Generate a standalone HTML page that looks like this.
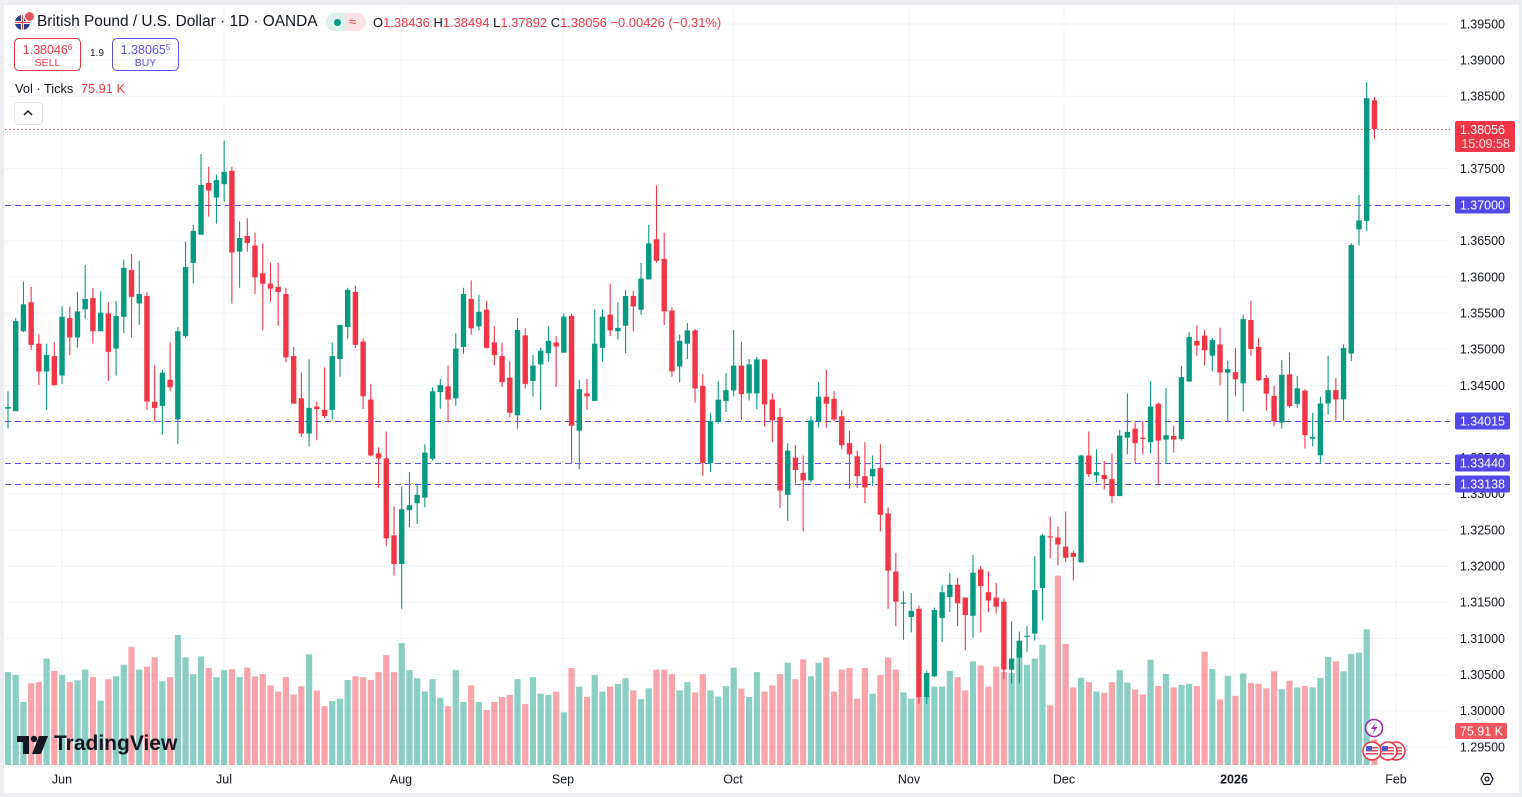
<!DOCTYPE html>
<html><head><meta charset="utf-8"><style>
html,body{margin:0;padding:0;background:#fff;}
body{width:1522px;height:797px;overflow:hidden;position:relative;font-family:"Liberation Sans",Arial,sans-serif;color:#131722;}
.abs{position:absolute;white-space:nowrap;}
</style></head><body>
<svg id="s" width="1522" height="797" style="position:absolute;left:0;top:0" xmlns="http://www.w3.org/2000/svg"></svg>

<!-- header -->
<div class="abs" style="left:15px;top:15px;width:15px;height:15px;border-radius:50%;background:#2b3f8f;overflow:hidden;">
  <div style="position:absolute;left:6px;top:0;width:3px;height:15px;background:#fff"></div>
  <div style="position:absolute;left:0;top:6px;width:15px;height:3px;background:#fff"></div>
  <div style="position:absolute;left:7px;top:0;width:1px;height:15px;background:#e03a3e"></div>
  <div style="position:absolute;left:0;top:7px;width:15px;height:1px;background:#e03a3e"></div>
</div>
<div class="abs" style="left:24px;top:11px;width:9px;height:9px;border-radius:50%;background:#e8545c;border:1px solid #fff"></div>
<div class="abs" style="left:37px;top:12px;font-size:15.4px;line-height:20px;color:#131722">British Pound / U.S. Dollar · 1D · OANDA</div>
<div class="abs" style="left:326px;top:13px;width:40px;height:18px;border-radius:9px;background:#fbe0e6;overflow:hidden">
  <div style="position:absolute;left:0;top:0;width:20px;height:18px;background:#dcf1ec"></div>
  <div style="position:absolute;left:8px;top:6px;width:7px;height:7px;border-radius:50%;background:#089981"></div>
  <div style="position:absolute;left:23px;top:0px;font-size:13px;line-height:18px;color:#f23645">≈</div>
</div>
<div class="abs" style="left:373px;top:14px;font-size:12.95px;line-height:17px;color:#f23645"><span style="color:#131722">O</span>1.38436 <span style="color:#131722">H</span>1.38494 <span style="color:#131722">L</span>1.37892 <span style="color:#131722">C</span>1.38056 −0.00426 (−0.31%)</div>

<div class="abs" style="left:14px;top:38px;width:65px;height:31px;border:1px solid #f23645;border-radius:5px;text-align:center;color:#f23645">
  <div style="font-size:12.5px;line-height:14px;margin-top:2px">1.38046<sup style="font-size:8px;vertical-align:4px">6</sup></div>
  <div style="font-size:10.5px;line-height:13px">SELL</div>
</div>
<div class="abs" style="left:90px;top:48px;font-size:10px;color:#131722">1.9</div>
<div class="abs" style="left:112px;top:38px;width:65px;height:31px;border:1px solid #5a4fe6;border-radius:5px;text-align:center;color:#5a4fe6">
  <div style="font-size:12.5px;line-height:14px;margin-top:2px">1.38065<sup style="font-size:8px;vertical-align:4px">5</sup></div>
  <div style="font-size:10.5px;line-height:13px">BUY</div>
</div>
<div class="abs" style="left:15px;top:80px;font-size:12.8px;line-height:17px;color:#131722">Vol · Ticks <span style="color:#f23645;margin-left:4px">75.91 K</span></div>
<div class="abs" style="left:14px;top:102px;width:27px;height:21px;border:1px solid #e0e3eb;border-radius:4px;background:#fff"></div>
<svg class="abs" style="left:22px;top:108px" width="12" height="10"><path d="M2 7 L6 3 L10 7" stroke="#131722" stroke-width="1.5" fill="none"/></svg>

<!-- TradingView logo -->
<svg class="abs" style="left:16px;top:735px" width="34" height="20">
  <path d="M1 1 H13 V19 H7 V7 H1 Z" fill="#131722"/>
  <circle cx="18" cy="4" r="3.2" fill="#131722"/>
  <path d="M23 1 H32 L25 19 H16 Z" fill="#131722"/>
</svg>
<div class="abs" style="left:54px;top:731px;font-size:21px;font-weight:bold;line-height:25px;color:#131722;letter-spacing:0px">TradingView</div>

<script>
(function(){
var svg=document.getElementById('s');
var h='';
// frame
h+='<rect x="0" y="0" width="1522" height="5" fill="#eceef1"/>';
h+='<rect x="0" y="0" width="4" height="797" fill="#eceef1"/>';
h+='<rect x="0" y="793" width="1522" height="4" fill="#eceef1"/>';
h+='<rect x="1519" y="0" width="3" height="797" fill="#eceef1"/>';
function py(p){return 24+(1.395-p)/0.005*36.15;}
// horizontal grid
var labels=[];
for(var k=0;k<=20;k++){var p=1.395-k*0.005;var y=py(p);
 h+='<line x1="5" x2="1450" y1="'+y.toFixed(1)+'" y2="'+y.toFixed(1)+'" stroke="#f0f3fa" stroke-width="1"/>';
 labels.push([p,y]);}
// vertical grid
var vx=[62,224,401,563,733,909,1064,1234,1396];
vx.forEach(function(x){h+='<line x1="'+x+'" x2="'+x+'" y1="5" y2="765" stroke="#f0f3fa" stroke-width="1"/>';});
// data
var A=function(z){return 120+z*0.4142;}, B=function(z){return 70+z*0.4464;};
var cs="g,693,697,655,745;g,485,703,478,703;g,445,510,390,512;r,440,543,403,555;r,540,607,517,640;g,567,607,540,700;r,570,640,537,642;g,475,617,450,637;r,478,525,450,568;g,462,525,415,550;g,432,457,350,480;r,430,510,405,540;g,465,510,413,510;r,467,560,440,630;g,473,552,437,617;g,357,475,337,515;r,362,427,323,525;g,420,443,340,495;r,425,680,415,700;r,680,695,593,727;g,610,690,603,760;r,627,645,537,655;g,510,723,500,782;g,355,522,293,527;g,268,345,253,395;g,157,277,82,277;r,152,170,113,233;g,145,187,132,250;g,125,155,50,197;r,123,320,113,443;g,285,318,245,405;r,280,297,237,318;r,303,380,272,420;r,370,395,298,508;r,395,407,345,440;r,403,415,345,497;r,420,573,405,585;r,570,685,548,685;r,672,757,610,765;g,695,757,578,788;r,692,698,680,773;r,700,715,597,720;g,570,700,537,723;g,495,577,495,620;g,410,500,405,528;r,415,543,400,550;r,535,667,528,698;r,675,810,637,812;r,805,817,790,888;r,817,1010,752,1028;r,1003,1072,933,1100;g,940,1072,885,1180;g,930,942,850,983;g,905,925,877,975;g,803,912,783,935;g,655,818,645,822;g,640,657,625,697;r,643,675,593,730;g,552,672,515,690;g,420,548,405,565;r,432,503,387,518;g,463,498,422,508;r,458,550,437,552;r,537,568,498,592;r,570,633,538,645;r,622,707,583,718;g,507,713,478,745;r,520,637,503,648;g,593,630,567,668;g,557,590,550,700;g,533,563,498,583;r,537,547,522,645;g,475,562,467,562;r,473,738,467,830;g,650,750,627,843;r,660,667,625,700;g,540,678,458,678;g,475,550,457,583;r,470,508,395,522;g,502,510,440,530;g,425,497,410,563;r,425,450,412,510;g,383,458,345,470;g,298,385,253,385;r,288,340,158,345;r,335,462,272,495;r,460,607,452,620;g,533,595,518,633;g,508,540,490,577;r,508,648,505,682;r,642,828,613,860;g,727,828,707,850;g,675,728,630,733;g,652,678,610,705;g,593,653,507,667;r,593,662,535,725;g,590,660,577,677;g,578,660,572,698;r,578,687,578,740;r,675,725,660,778;r,717,895,695,937;g,798,905,780,968;r,815,845,785,877;r,852,870,810,993;g,725,870,715,875;g,668,727,633,742;r,668,685,603,743;r,673,723,655,727;r,715,785,700,795;r,780,807,750,890;r,812,860,798,888;r,860,887,778,925;g,842,860,810,883;r,840,953,782,993;r,950,1088,935,1180;r,1090,1163,1045,1222;g,1165,1167,1138,1255;g,1185,1200,1142,1237;r,1180,1393,1172,1410;g,1335,1393,1330,1410;g,1183,1343,1177,1345;g,1140,1202,1122,1260;g,1122,1152,1093,1188;r,1122,1167,1105,1222;r,1153,1195,1153,1280;g,1093,1197,1050,1250;r,1085,1125,1077,1237;r,1140,1160,1090,1188;r,1153,1175,1117,1192;r,1163,1327,1155,1350;g,1300,1327,1210,1360;g,1257,1298,1235,1360;g,1245,1248,1222,1285;g,1135,1240,1053,1257;g,1003,1130,1000,1208;r,1005,1007,958,1058;r,1008,1025,982,1075;r,1030,1057,945,1067;r,1045,1055,1040,1112;g,810,1068,808,1068;r,810,855,752,862;g,850,858,795,875;r,857,867,823,892;r,867,908,805,925;g,762,908,748,908;g,753,767,660,807;r,745,780,730,828;r,767,769,727,807;g,692,778,630,805";
var cs2="r,748,830,745,930;g,818,828,712,883;r,820,828,797,857;g,688,827,663,830;g,598,698,587,698;r,607,617,572,640;r,595,628,582,662;g,605,640,600,675;r,615,678,577,707;g,670,678,652,787;r,677,693,623,730;g,558,702,548,765;r,560,625,517,640;r,620,695,600,697;r,690,725,683,763;r,730,787,707,798;g,683,790,650,803;r,682,753,633,757;g,713,748,685,757;r,718,818,715,848;g,822,826,768,843;g,747,863,732,880;g,717,747,640,772;r,717,738,690,785;g,623,738,615,785;g,392,635,388,652;g,337,357,280,393;g,63,338,27,360;r,68,132,60,155";
var vs="g1333 g1340 g1405 r1360 r1357 g1300 r1330 g1340 r1357 g1353 g1327 r1345 g1402 r1350 g1343 g1315 r1272 g1327 r1320 r1297 g1355 r1345 g1243 g1297 g1338 g1295 r1323 g1345 g1328 r1326 g1345 r1322 r1343 r1338 r1365 r1380 r1345 r1387 r1367 g1290 r1377 r1415 g1403 g1397 g1352 r1343 r1345 r1352 r1333 r1292 r1333 g1263 g1328 g1348 g1380 g1350 g1395 r1415 g1328 g1405 r1365 g1405 r1425 r1405 r1393 r1388 g1350 r1410 g1345 g1385 g1388 r1380 g1430 r1323 g1368 r1393 g1340 g1380 r1368 g1362 g1348 r1377 g1398 g1372 r1327 r1327 r1338 g1377 g1357 r1382 r1338 g1377 g1392 g1367 g1322 r1373 g1393 g1333 r1380 r1365 r1338 g1310 r1350 r1302 g1343 g1310 r1298 r1380 r1327 r1323 r1397 r1323 g1385 r1340 r1298 r1327 g1382 g1397 r1393 g1390 g1368 g1368 g1330 r1345 r1377 g1307 r1317 r1368 r1320 r1333 g1335 g1275 g1315 g1300 g1267 r1413 r1100 r1265 r1370 g1347 r1357 g1380 r1383 r1357 g1328 g1358 r1375 r1387 g1303";
var vs2="r1380 g1353 r1383 g1378 g1375 r1380 r1303 g1342 r1410 g1357 r1402 g1352 r1373 r1375 r1385 r1347 g1387 r1368 g1383 r1380 g1383 g1362 g1315 r1325 g1347 g1308 g1305 g1253 r1500";
var candles=[];
cs.split(';').forEach(function(s){var a=s.split(',');candles.push([a[0],A(+a[1]),A(+a[2]),A(+a[3]),A(+a[4])]);});
cs2.split(';').forEach(function(s){var a=s.split(',');candles.push([a[0],B(+a[1]),B(+a[2]),B(+a[3]),B(+a[4])]);});
var vols=[];
vs.split(' ').forEach(function(s){vols.push([s[0],A(+s.slice(1))]);});
vs2.split(' ').forEach(function(s){vols.push([s[0],B(+s.slice(1))]);});
function X(i){return 8+i*7.72;}
// volumes
vols.forEach(function(v,i){var x=X(i);var c=v[0]=='g'?'rgba(8,153,129,0.47)':'rgba(242,54,69,0.45)';
 h+='<rect x="'+(x-3.1).toFixed(2)+'" y="'+v[1].toFixed(1)+'" width="6.2" height="'+(765-v[1]).toFixed(1)+'" fill="'+c+'"/>';});
// dashed lines
[205,421,463,484].forEach(function(y){h+='<line x1="5" x2="1450" y1="'+(y+0.5)+'" y2="'+(y+0.5)+'" stroke="#5a4ff0" stroke-width="1" stroke-dasharray="6 4"/>';});
h+='<line x1="5" x2="1450" y1="129.5" y2="129.5" stroke="#f23645" stroke-width="1" stroke-dasharray="1.5 2.5"/>';
// candles
candles.forEach(function(c,i){var x=X(i);var col=c[0]=='g'?'#089981':'#f23645';
 var bt=Math.min(c[1],c[2]),bb=Math.max(c[1],c[2]);if(bb-bt<1.2){bb=bt+1.2;}
 h+='<line x1="'+x.toFixed(2)+'" x2="'+x.toFixed(2)+'" y1="'+Math.min(c[3],bt).toFixed(1)+'" y2="'+Math.max(c[4],bb).toFixed(1)+'" stroke="'+col+'" stroke-width="1.1"/>';
 h+='<rect x="'+(x-2.7).toFixed(2)+'" y="'+bt.toFixed(1)+'" width="5.4" height="'+(bb-bt).toFixed(1)+'" fill="'+col+'"/>';});
// price labels
labels.forEach(function(l){h+='<text x="1505" y="'+(l[1]+4.3).toFixed(1)+'" font-size="12.5" text-anchor="end" fill="#131722" font-family="Liberation Sans, Arial, sans-serif">'+l[0].toFixed(5)+'</text>';});
// badges
function badge(y,txt,col){h+='<rect x="1455" y="'+(y-8.5)+'" width="55" height="17" rx="2" fill="'+col+'"/><text x="1505" y="'+(y+4.3)+'" font-size="12.5" text-anchor="end" fill="#fff" font-family="Liberation Sans, Arial, sans-serif">'+txt+'</text>';}
badge(205,'1.37000','#5447ea');badge(421,'1.34015','#5447ea');badge(463,'1.33440','#5447ea');badge(484,'1.33138','#5447ea');
h+='<rect x="1455" y="121" width="60" height="31" rx="2" fill="#f23645"/>';
h+='<text x="1505" y="134" font-size="12.5" text-anchor="end" fill="#fff" font-family="Liberation Sans, Arial, sans-serif">1.38056</text>';
h+='<text x="1510" y="148" font-size="12.5" text-anchor="end" fill="#fde0e3" font-family="Liberation Sans, Arial, sans-serif">15:09:58</text>';
h+='<rect x="1455" y="723" width="52" height="16" rx="2" fill="#f0555d"/>';
h+='<text x="1503" y="735.3" font-size="12.5" text-anchor="end" fill="#fff" font-family="Liberation Sans, Arial, sans-serif">75.91 K</text>';
// time labels
var tl=[['Jun',62],['Jul',224],['Aug',401],['Sep',563],['Oct',733],['Nov',909],['Dec',1064],['2026',1234],['Feb',1396]];
tl.forEach(function(t){h+='<text x="'+t[1]+'" y="783.5" font-size="12.5" text-anchor="middle" fill="#131722" '+(t[0]=='2026'?'font-weight="bold" ':'')+'font-family="Liberation Sans, Arial, sans-serif">'+t[0]+'</text>';});
// settings icon
h+='<path d="M1481 779 L1484 773.5 L1490 773.5 L1493 779 L1490 784.5 L1484 784.5 Z" fill="none" stroke="#131722" stroke-width="1.2"/><circle cx="1487" cy="779" r="2" fill="none" stroke="#131722" stroke-width="1.2"/>';
// event icons
function flag(cx,cy){h+='<circle cx="'+cx+'" cy="'+cy+'" r="9" fill="#fff" stroke="#f23645" stroke-width="1.6"/>';
 h+='<rect x="'+(cx-6)+'" y="'+(cy-5)+'" width="12" height="10" fill="#fff"/>';
 for(var k=0;k<3;k++){h+='<rect x="'+(cx-6)+'" y="'+(cy-4+k*3)+'" width="12" height="1.5" fill="#e04a55"/>';}
 h+='<rect x="'+(cx-6)+'" y="'+(cy-5)+'" width="6" height="5" fill="#4a5fc8"/>';}
flag(1396,751);flag(1388,751);flag(1372,751);
h+='<circle cx="1374" cy="728" r="8.5" fill="#fff" stroke="#9c27b0" stroke-width="1.6"/>';
h+='<path d="M1376 722 L1371 729 L1374.5 729 L1372.5 734 L1377.5 727 L1374 727 Z" fill="#9c27b0"/>';
svg.innerHTML=h;
})();
</script>
</body></html>
